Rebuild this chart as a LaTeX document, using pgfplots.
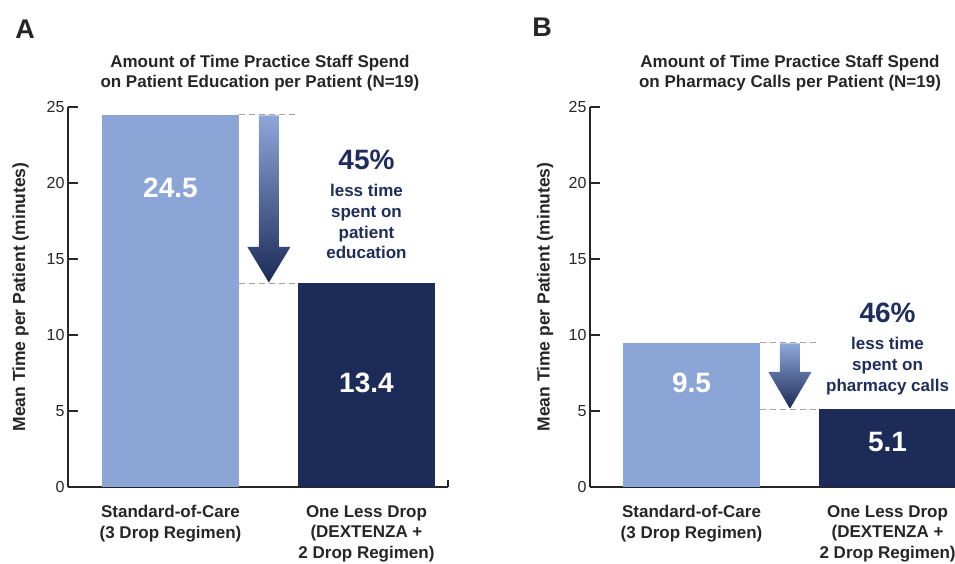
\documentclass[border=0pt]{standalone}
\usepackage{pgfplots}
\pgfplotsset{compat=1.18}
\usepackage{fontspec}
\setmainfont{Liberation Sans}
\definecolor{lightbar}{HTML}{8CA5D7}
\definecolor{navy}{HTML}{1C2B58}
\definecolor{txtnavy}{HTML}{1F2D5C}
\definecolor{arrowtop}{HTML}{8EA7D9}
\definecolor{dashgray}{HTML}{A3A3A3}
\definecolor{axgray}{HTML}{262626}
\pgfplotsset{panel/.style={
  scale only axis, height=380pt, ymin=0, ymax=25,
  axis lines=left, axis line style={-, line width=1.1pt, axgray},
  ytick={0,5,...,25}, tick align=inside, major tick length=10pt,
  ytick style={line width=1.1pt, axgray},
  xtick={0,1}, xtick style={draw=none},
  xticklabels={{Standard-of-Care\\(3 Drop Regimen)},{One Less Drop\\(DEXTENZA +\\2 Drop Regimen)}},
  xticklabel style={align=center, font=\bfseries\fontsize{17}{20.5}\selectfont, text=axgray, yshift=-15pt},
  yticklabel style={font=\fontsize{16}{18}\selectfont, text=axgray},
  /pgf/number format/assume math mode=true,
  ylabel={Mean Time per Patient (minutes)},
  every axis y label/.style={rotate=90, anchor=center, font=\bfseries\fontsize{17.5}{20}\selectfont, text=axgray},
  title style={anchor=center, align=center, font=\bfseries\fontsize{17}{19.5}\selectfont, text=axgray},
}}
\begin{document}
\begin{tikzpicture}
\path[use as bounding box] (0,0) rectangle (955pt,563pt);
\node[font=\bfseries\fontsize{27}{27}\selectfont, text=axgray] at (25pt,534pt) {A};
\node[font=\bfseries\fontsize{27}{27}\selectfont, text=axgray] at (542pt,536pt) {B};
% Panel A
\begin{axis}[panel, at={(68pt,76pt)}, anchor=south west, width=380pt,
  xmin=-0.523, xmax=1.416,
  ylabel style={at={(axis description cs:-0.125,0.5)}},
  title={Amount of Time Practice Staff Spend\\on Patient Education per Patient (N=19)},
  title style={at={(axis description cs:0.505,1)}, yshift=28pt}]
\addplot[ybar, bar width=137pt, bar shift=0pt, fill=lightbar, draw=none] coordinates {(0,24.5)};
\addplot[ybar, bar width=137pt, bar shift=0pt, fill=navy, draw=none] coordinates {(1,13.4)};
\draw[dashgray, dash pattern=on 6pt off 4pt, line width=1pt] (axis cs:0.35,24.5) -- (axis cs:0.65,24.5);
\draw[dashgray, dash pattern=on 6pt off 4pt, line width=1pt] (axis cs:0.35,13.4) -- (axis cs:0.65,13.4);
\shade[top color=arrowtop, bottom color=navy] (axis cs:0.451,24.45) -- (axis cs:0.553,24.45) -- (axis cs:0.553,15.8) -- (axis cs:0.612,15.8) -- (axis cs:0.502,13.45) -- (axis cs:0.392,15.8) -- (axis cs:0.451,15.8) -- cycle;
\node[text=white, font=\bfseries\fontsize{28}{28}\selectfont] at (axis cs:0,19.67) {24.5};
\node[text=white, font=\bfseries\fontsize{28}{28}\selectfont] at (axis cs:1,6.84) {13.4};
\node[text=txtnavy, font=\bfseries\fontsize{28}{28}\selectfont] at (axis cs:1,21.5) {45\%};
\node[text=txtnavy, align=center, font=\bfseries\fontsize{17}{20.7}\selectfont] at (axis cs:1,17.46) {less time\\spent on\\patient\\education};
\end{axis}
\draw[axgray, line width=1.1pt] (448pt,76pt) -- (448pt,83pt);
% Panel B
\begin{axis}[panel, at={(590pt,76pt)}, anchor=south west, width=365pt,
  xmin=-0.518, xmax=1.344,
  ylabel style={at={(axis description cs:-0.123,0.5)}},
  title={Amount of Time Practice Staff Spend\\on Pharmacy Calls per Patient (N=19)},
  title style={at={(axis description cs:0.548,1)}, yshift=28pt}]
\addplot[ybar, bar width=137pt, bar shift=0pt, fill=lightbar, draw=none] coordinates {(0,9.5)};
\addplot[ybar, bar width=137pt, bar shift=0pt, fill=navy, draw=none] coordinates {(1,5.1)};
\draw[dashgray, dash pattern=on 6pt off 4pt, line width=1pt] (axis cs:0.35,9.5) -- (axis cs:0.65,9.5);
\draw[dashgray, dash pattern=on 6pt off 4pt, line width=1pt] (axis cs:0.35,5.1) -- (axis cs:0.65,5.1);
\shade[top color=arrowtop, bottom color=navy] (axis cs:0.451,9.45) -- (axis cs:0.553,9.45) -- (axis cs:0.553,7.57) -- (axis cs:0.612,7.57) -- (axis cs:0.502,5.15) -- (axis cs:0.392,7.57) -- (axis cs:0.451,7.57) -- cycle;
\node[text=white, font=\bfseries\fontsize{28}{28}\selectfont] at (axis cs:0,6.84) {9.5};
\node[text=white, font=\bfseries\fontsize{28}{28}\selectfont] at (axis cs:1,2.96) {5.1};
\node[text=txtnavy, font=\bfseries\fontsize{28}{28}\selectfont] at (axis cs:1,11.45) {46\%};
\node[text=txtnavy, align=center, font=\bfseries\fontsize{17}{21}\selectfont] at (axis cs:1,7.97) {less time\\spent on\\pharmacy calls};
\end{axis}
\end{tikzpicture}
\end{document}
